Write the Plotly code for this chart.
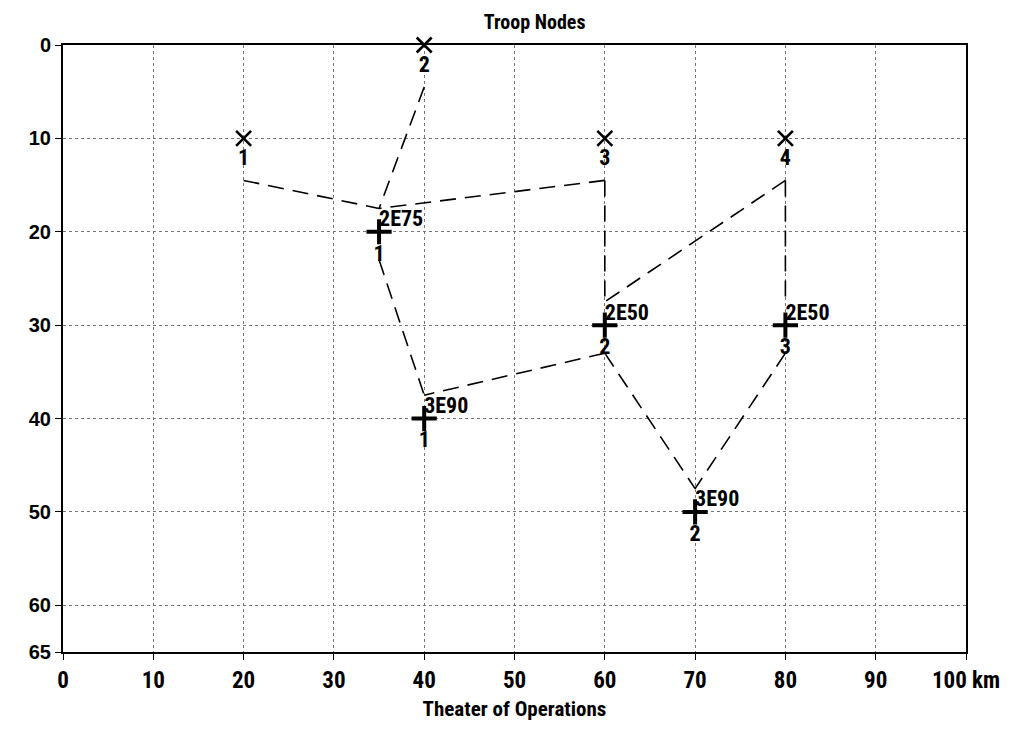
import plotly.graph_objects as go

# Troop nodes (X markers)
troop_x = [20, 40, 60, 80]
troop_y = [10, 0, 10, 10]
troop_lbl = ["1", "2", "3", "4"]

# Second echelon nodes (2E) and third echelon nodes (3E)
e2_x = [35, 60, 80]
e2_y = [20, 30, 30]
e2_lbl = ["1", "2", "3"]
e2_tag = ["2E75", "2E50", "2E50"]

e3_x = [40, 70]
e3_y = [40, 50]
e3_lbl = ["1", "2"]
e3_tag = ["3E90", "3E90"]

# links: (from group, index) -> (to group, index)
links = [
    ("T", 0, "E2", 0), ("T", 1, "E2", 0), ("T", 2, "E2", 0),
    ("T", 2, "E2", 1), ("T", 3, "E2", 1), ("T", 3, "E2", 2),
    ("E2", 0, "E3", 0), ("E2", 1, "E3", 0), ("E2", 1, "E3", 1),
    ("E2", 2, "E3", 1),
]

x_ticks = [0, 10, 20, 30, 40, 50, 60, 70, 80, 90, 100]
x_ticktext = ["0", "10", "20", "30", "40", "50", "60", "70", "80", "90", "100 km"]
y_ticks = [0, 10, 20, 30, 40, 50, 60, 65]

groups = {"T": (troop_x, troop_y), "E2": (e2_x, e2_y), "E3": (e3_x, e3_y)}
out_off = {"T": 4.5, "E2": 3.0}
in_off = {"E2": -2.5, "E3": -2.5}

NARROW = "Liberation Sans Narrow, Roboto Condensed, Roboto, Liberation Sans, Arial"
BOLD = "Liberation Sans, Arial"

fig = go.Figure()
lx, ly = [], []
for g1, i1, g2, i2 in links:
    xa, ya = groups[g1]
    xb, yb = groups[g2]
    lx += [xa[i1], xb[i2], None]
    ly += [ya[i1] + out_off[g1], yb[i2] + in_off[g2], None]
fig.add_trace(go.Scatter(x=lx, y=ly, mode="lines",
                         line=dict(color="black", width=1.6, dash="16px,9px"),
                         hoverinfo="skip", showlegend=False))

fig.add_trace(go.Scatter(x=troop_x, y=troop_y, mode="markers+text", cliponaxis=False,
                         marker=dict(symbol="x-thin", size=15, line=dict(width=2.6, color="black")),
                         text=troop_lbl, textposition="bottom center",
                         textfont=dict(family=NARROW, size=22, color="black", weight="bold"),
                         showlegend=False))
for xs, ys, lb, tg in [(e2_x, e2_y, e2_lbl, e2_tag), (e3_x, e3_y, e3_lbl, e3_tag)]:
    fig.add_trace(go.Scatter(x=xs, y=ys, mode="markers+text", cliponaxis=False,
                             marker=dict(symbol="cross-thin", size=18, line=dict(width=4, color="black")),
                             text=lb, textposition="bottom center",
                             textfont=dict(family=NARROW, size=22, color="black", weight="bold"),
                             showlegend=False))
    fig.add_trace(go.Scatter(x=xs, y=ys, mode="text", cliponaxis=False,
                             text=tg, textposition="top right",
                             textfont=dict(family=NARROW, size=22, color="black", weight="bold"),
                             showlegend=False))

fig.update_layout(
    width=1007, height=713,
    margin=dict(l=55, r=49, t=37, b=69),
    paper_bgcolor="white", plot_bgcolor="white",
    title=dict(text="Troop Nodes", x=0.523, xanchor="center", y=0.99, yanchor="top",
               font=dict(family=NARROW, size=20, color="black", weight="bold")),
    xaxis=dict(range=[0, 100], tickvals=x_ticks, ticktext=x_ticktext, automargin=False,
               showgrid=True, gridcolor="#777", griddash="dot", gridwidth=1,
               showline=True, linecolor="black", linewidth=2, mirror=True,
               ticks="outside", ticklen=6, tickcolor="black", zeroline=False,
               tickfont=dict(family=NARROW, size=23, color="black", weight="bold"),
               title=dict(text="Theater of Operations", standoff=9,
                          font=dict(family=NARROW, size=21, color="black", weight="bold"))),
    yaxis=dict(range=[65, 0], tickvals=y_ticks, automargin=False,
               showgrid=True, gridcolor="#777", griddash="dot", gridwidth=1,
               showline=True, linecolor="black", linewidth=2, mirror=True,
               ticks="outside", ticklen=6, tickcolor="black", zeroline=False,
               tickfont=dict(family=BOLD, size=20, color="black", weight="bold")),
)

fig.write_html("out.html")
